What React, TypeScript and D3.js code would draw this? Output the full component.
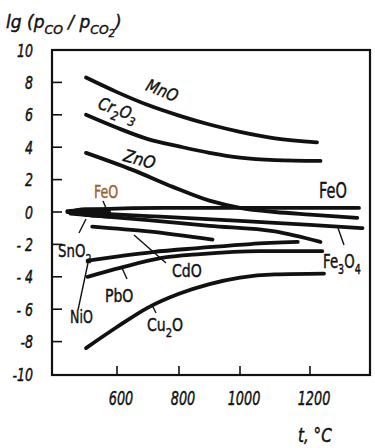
import React from "react";
import * as d3 from "d3";

// ---- data ----
const xTicks = [600, 800, 1000, 1200];
const xTickLabels = ["600", "800", "1000", "1200"];
const yTicks = [10, 8, 6, 4, 2, 0, -2, -4, -6, -8, -10];
const yTickLabels = ["10", "8", "6", "4", "2", "0", "- 2", "- 4", "- 6", "-8", "-10"];

const mnoT = [500, 600, 700, 800, 900, 1000, 1100, 1220];
const mnoV = [8.3, 7.4, 6.6, 5.95, 5.4, 4.95, 4.55, 4.3];

const cr2o3T = [500, 600, 700, 800, 900, 1000, 1100, 1230];
const cr2o3V = [6.0, 5.2, 4.5, 4.05, 3.65, 3.35, 3.2, 3.15];

const znoT = [500, 650, 780, 900, 1000, 1100, 1200, 1335];
const znoV = [3.65, 2.6, 1.55, 0.7, 0.26, 0.0, -0.16, -0.36];

const feoT = [440, 550, 750, 1050, 1340];
const feoV = [0.05, 0.18, 0.25, 0.25, 0.25];

const fe3o4T = [440, 700, 1000, 1200, 1350];
const fe3o4V = [0.0, -0.25, -0.55, -0.8, -1.0];

const fe2T = [450, 700, 900, 1100, 1230];
const fe2V = [-0.1, -0.5, -0.85, -1.2, -1.85];

const cdoT = [520, 700, 910];
const cdoV = [-0.9, -1.2, -1.7];

const nioT = [505, 610, 715, 870, 1030, 1165];
const nioV = [-3.0, -2.72, -2.47, -2.22, -1.98, -1.85];

const pboT = [505, 610, 740, 870, 1055, 1235];
const pboV = [-4.0, -3.45, -2.85, -2.6, -2.42, -2.42];

const cu2oT = [500, 600, 700, 800, 900, 1000, 1100, 1240];
const cu2oV = [-8.4, -7.1, -5.9, -5.05, -4.45, -4.05, -3.85, -3.8];

// dark wedge where the iron-oxide curves converge
const blobT = [440, 500, 580];
const blobTop = [0.1, 0.3, 0.25];
const blobBottom = [0.0, -0.3, -0.4];

const seriesList = [
  { name: "MnO", t: mnoT, v: mnoV },
  { name: "Cr2O3", t: cr2o3T, v: cr2o3V },
  { name: "ZnO", t: znoT, v: znoV },
  { name: "FeO", t: feoT, v: feoV },
  { name: "Fe3O4", t: fe3o4T, v: fe3o4V },
  { name: "FeO2", t: fe2T, v: fe2V },
  { name: "CdO", t: cdoT, v: cdoV },
  { name: "NiO", t: nioT, v: nioV },
  { name: "PbO", t: pboT, v: pboV },
  { name: "Cu2O", t: cu2oT, v: cu2oV },
];

// ---- layout ----
const W = 375;
const H = 448;
const frameL = 52;
const frameR = 370;
const frameT = 50;
const frameB = 375;

const x = d3.scaleLinear().domain(xTicks).range([117, 179, 240, 310]);
const y = d3.scaleLinear().domain([-10, 10]).range([374, 50]);

const line = d3
  .line<[number, number]>()
  .x((d) => x(d[0]))
  .y((d) => y(d[1]))
  .curve(d3.curveMonotoneX);

const area = d3
  .area<number>()
  .x((_, i) => x(blobT[i]))
  .y0((_, i) => y(blobBottom[i]))
  .y1((_, i) => y(blobTop[i]))
  .curve(d3.curveMonotoneX);

const FONT = "'DejaVu Sans', sans-serif";
const INK = "#111";

type Part = [string, number];

function Txt({
  x: tx,
  y: ty,
  rot = 0,
  sx = 1,
  size = 18,
  italic = false,
  anchor = "start",
  fill = INK,
  parts,
}: {
  x: number;
  y: number;
  rot?: number;
  sx?: number;
  size?: number;
  italic?: boolean;
  anchor?: string;
  fill?: string;
  parts: Part[];
}) {
  let level = 0;
  const shift = [0, size * 0.32, size * 0.52];
  const fs = [size, size * 0.72, size * 0.6];
  return (
    <text
      transform={`translate(${tx},${ty}) rotate(${rot}) scale(${sx},1)`}
      fontSize={size}
      fontStyle={italic ? "italic" : "normal"}
      textAnchor={anchor as any}
      fill={fill}
      stroke={fill}
      strokeWidth={0.45}
      fontFamily={FONT}
    >
      {parts.map(([s, l], i) => {
        const dy = shift[l] - shift[level];
        level = l;
        return (
          <tspan key={i} dy={dy} fontSize={fs[l]}>
            {s}
          </tspan>
        );
      })}
    </text>
  );
}

export default function App() {
  return (
    <svg width={W} height={H} style={{ display: "block", position: "absolute", left: 0, top: 0, background: "#fff" }}>
      <rect x={0} y={0} width={W} height={H} fill="#fff" />
      {/* frame */}
      <rect
        x={frameL}
        y={frameT}
        width={frameR - frameL}
        height={frameB - frameT}
        fill="none"
        stroke={INK}
        strokeWidth={2.2}
      />
      {/* y ticks */}
      {yTicks.map((t, i) => (
        <g key={"y" + t}>
          {t > -10 && t < 10 && (
            <line x1={frameL} x2={frameL + 10} y1={y(t)} y2={y(t)} stroke={INK} strokeWidth={1.6} />
          )}
          <text
            transform={`translate(33,${y(t) + 6.5}) scale(0.7,1)`}
            textAnchor="end"
            fontSize={18}
            fontStyle="italic"
            fontFamily={FONT}
            fill={INK}
            stroke={INK}
            strokeWidth={0.5}
          >
            {yTickLabels[i]}
          </text>
        </g>
      ))}
      {/* x ticks */}
      {xTicks.map((t, i) => (
        <g key={"x" + t}>
          <line x1={x(t)} x2={x(t)} y1={frameB} y2={frameB - 9} stroke={INK} strokeWidth={1.6} />
          <text
            transform={`translate(${x(t) + 4},405) scale(0.64,1)`}
            textAnchor="middle"
            fontSize={20}
            fontStyle="italic"
            fontFamily={FONT}
            fill={INK}
            stroke={INK}
            strokeWidth={0.5}
          >
            {xTickLabels[i]}
          </text>
        </g>
      ))}
      {/* curves */}
      <path d={area(blobT) || ""} fill={INK} />
      {seriesList.map((s) => (
        <path
          key={s.name}
          d={line(s.t.map((t, i) => [t, s.v[i]] as [number, number])) || ""}
          fill="none"
          stroke={INK}
          strokeWidth={3.8}
          strokeLinecap="round"
        />
      ))}
      {/* leader lines */}
      <g stroke={INK} strokeWidth={1.4}>
        <line x1={103} y1={201} x2={106} y2={208} />
        <line x1={79} y1={233} x2={86} y2={219} />
        <line x1={134} y1={235} x2={166} y2={263} />
        <line x1={122} y1={268} x2={127} y2={279} />
        <line x1={78} y1={310} x2={88} y2={263} />
        <line x1={152} y1={305} x2={156} y2={313} />
        <line x1={338} y1={228} x2={344} y2={245} />
      </g>
      {/* labels */}
      <Txt x={160} y={96} rot={22} sx={0.85} size={17} italic anchor="middle" parts={[["MnO", 0]]} />
      <Txt x={116} y={115} rot={20} sx={0.85} size={17} italic anchor="middle" parts={[["Cr", 0], ["2", 1], ["O", 0], ["3", 1]]} />
      <Txt x={138} y={165} rot={15} sx={0.9} size={17} italic anchor="middle" parts={[["ZnO", 0]]} />
      <Txt x={333} y={198} sx={0.66} size={22} anchor="middle" parts={[["FeO", 0]]} />
      <Txt x={106} y={198} sx={0.7} size={18} anchor="middle" fill="#9a6230" parts={[["FeO", 0]]} />
      <Txt x={58} y={257} sx={0.74} size={18} parts={[["SnO", 0], ["2", 1]]} />
      <Txt x={172} y={277} sx={0.78} size={18} parts={[["CdO", 0]]} />
      <Txt x={105} y={302} sx={0.78} size={18} parts={[["PbO", 0]]} />
      <Txt x={70} y={323} sx={0.7} size={18} parts={[["NiO", 0]]} />
      <Txt x={147} y={331} sx={0.78} size={18} parts={[["Cu", 0], ["2", 1], ["O", 0]]} />
      <Txt x={323} y={268} sx={0.7} size={19} parts={[["Fe", 0], ["3", 1], ["O", 0], ["4", 1]]} />
      {/* axis titles */}
      <Txt
        x={6}
        y={28}
        sx={0.95}
        size={18}
        italic
        parts={[
          ["lg (p", 0],
          ["CO", 1],
          [" / p", 0],
          ["CO", 1],
          ["2", 2],
          [")", 0],
        ]}
      />
      <Txt x={298} y={442} sx={0.8} size={19} italic parts={[["t, °C", 0]]} />
    </svg>
  );
}
